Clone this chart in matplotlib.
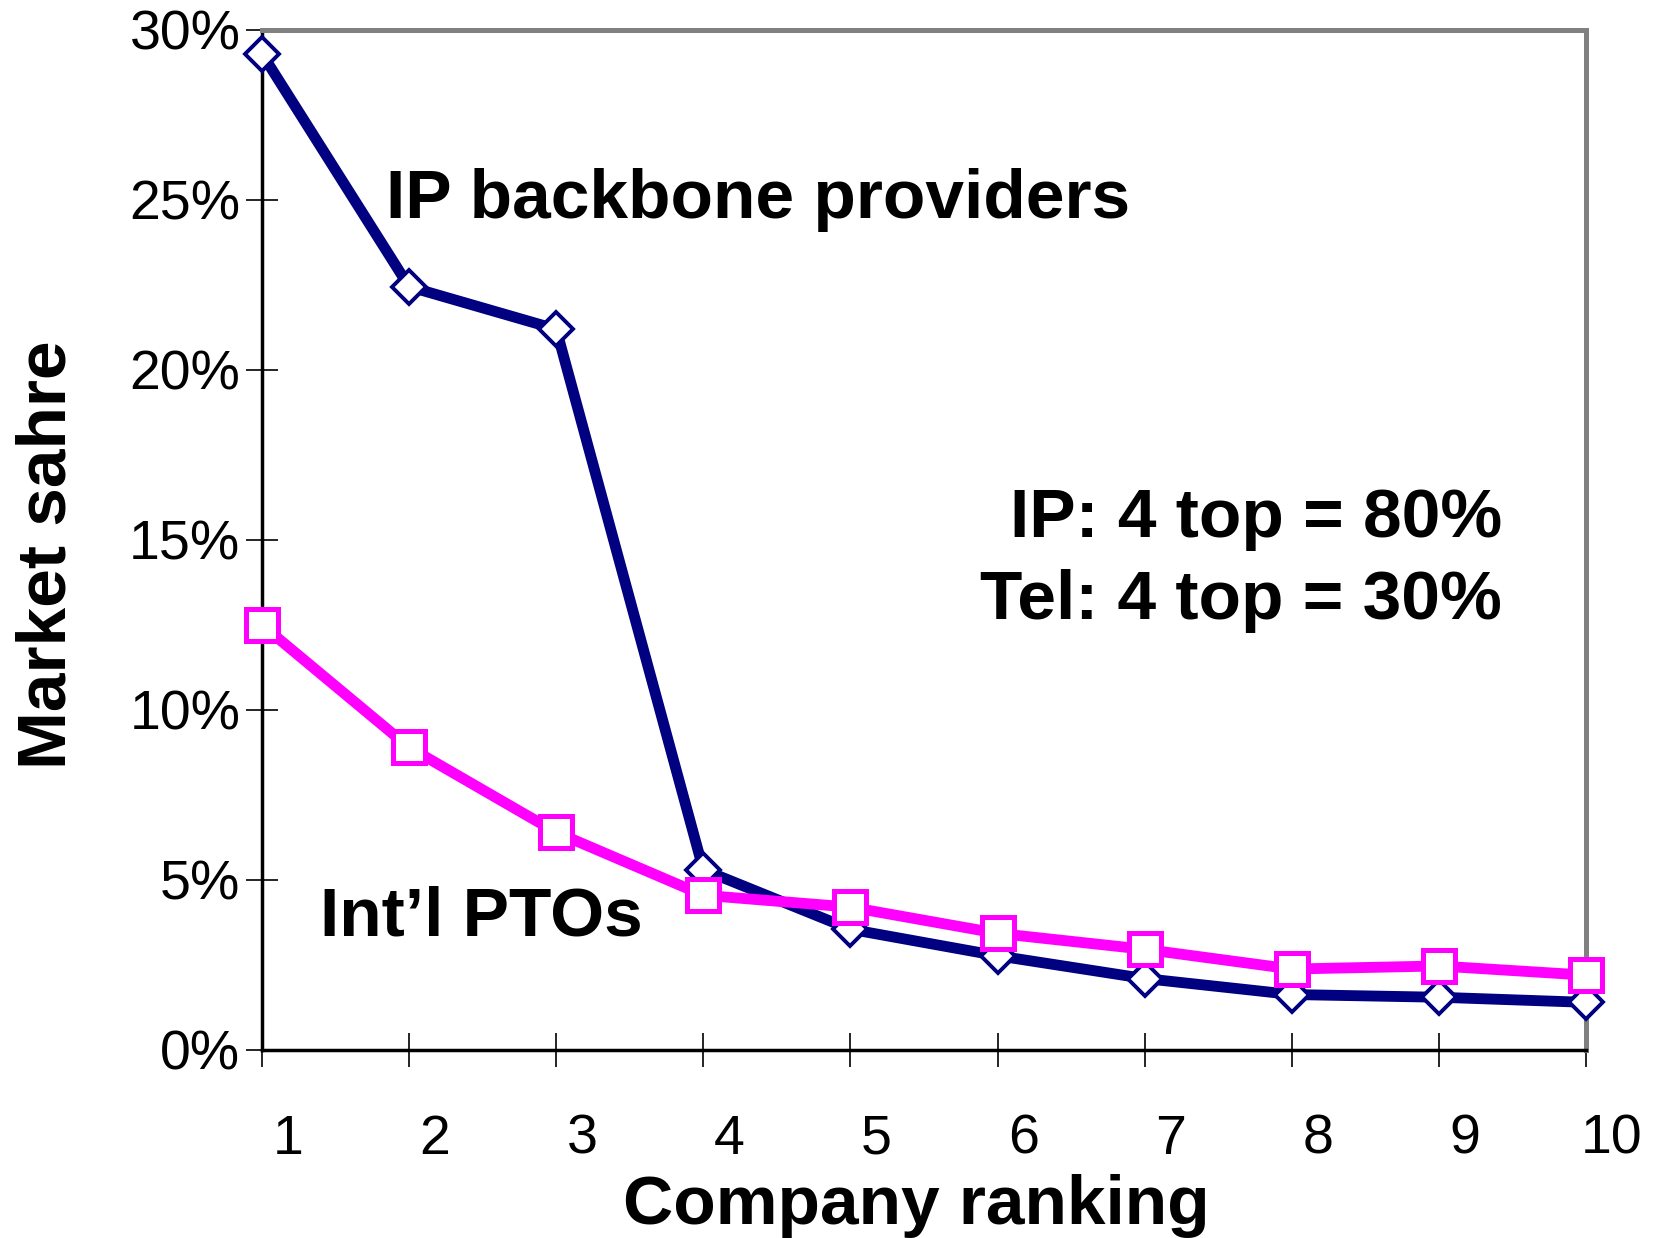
import matplotlib
matplotlib.use("Agg")
import matplotlib.pyplot as plt
import matplotlib.transforms as mtransforms
from matplotlib.ticker import FuncFormatter

plt.rcParams['font.family'] = ['Liberation Sans', 'DejaVu Sans']

# data (market share in %)
ranking = [1, 2, 3, 4, 5, 6, 7, 8, 9, 10]
ip_backbone = [29.3, 22.45, 21.2, 5.3, 3.55, 2.77, 2.1, 1.63, 1.55, 1.4]
intl_pto = [12.5, 8.9, 6.4, 4.55, 4.2, 3.43, 2.96, 2.38, 2.47, 2.2]
y_ticks = [0, 5, 10, 15, 20, 25, 30]

fig = plt.figure(figsize=(16.54, 12.38), dpi=100)
fig.subplots_adjust(left=0.1584, right=0.9589, top=0.9758, bottom=0.1519)
ax = fig.add_subplot(1, 1, 1)

ax.plot(ranking, ip_backbone, color='#000080', lw=7.8, marker='D', ms=17.5,
        mfc='white', mec='#000080', mew=2.8, clip_on=False, zorder=5)
ax.plot(ranking, intl_pto, color='#FF00FF', lw=7.8, marker='s', ms=23,
        mfc='white', mec='#FF00FF', mew=3.6, clip_on=False, zorder=6)

ax.set_xlim(1, 10)
ax.set_ylim(0, 30)
ax.set_xticks(ranking)
ax.set_yticks(y_ticks)
ax.yaxis.set_major_formatter(FuncFormatter(lambda v, p: '%d%%' % v))

ax.tick_params(axis='both', direction='inout', width=1.2, color='black',
               labelsize=40)
ax.tick_params(axis='x', length=24, pad=34)
ax.tick_params(axis='y', length=23, pad=4)

# shift category labels a little to the right, as in the original
offset = mtransforms.ScaledTranslation(0.26, 0, fig.dpi_scale_trans)
for lab in ax.get_xticklabels():
    lab.set_transform(lab.get_transform() + offset)

for side in ['left', 'bottom']:
    ax.spines[side].set_color('black')
    ax.spines[side].set_linewidth(2.5)
for side in ['top', 'right']:
    ax.spines[side].set_color('#808080')
    ax.spines[side].set_linewidth(3.6)

ax.set_xlabel('Company ranking', fontsize=50, fontweight='bold', labelpad=6)
ax.set_ylabel('Market sahre', fontsize=50, fontweight='bold', labelpad=36)
ax.xaxis.label.set_x(0.494)
ax.yaxis.label.set_y(0.486)

ax.text(0.094, 0.833, 'IP backbone providers', transform=ax.transAxes,
        fontsize=50, fontweight='bold', ha='left', va='center')
ax.text(0.044, 0.130, 'Int\u2019l PTOs', transform=ax.transAxes,
        fontsize=50, fontweight='bold', ha='left', va='center')
ax.text(0.9366, 0.521, 'IP: 4 top = 80%', transform=ax.transAxes,
        fontsize=50, fontweight='bold', ha='right', va='center')
ax.text(0.9366, 0.440, 'Tel: 4 top = 30%', transform=ax.transAxes,
        fontsize=50, fontweight='bold', ha='right', va='center')

fig.savefig('out.png', dpi=100)
